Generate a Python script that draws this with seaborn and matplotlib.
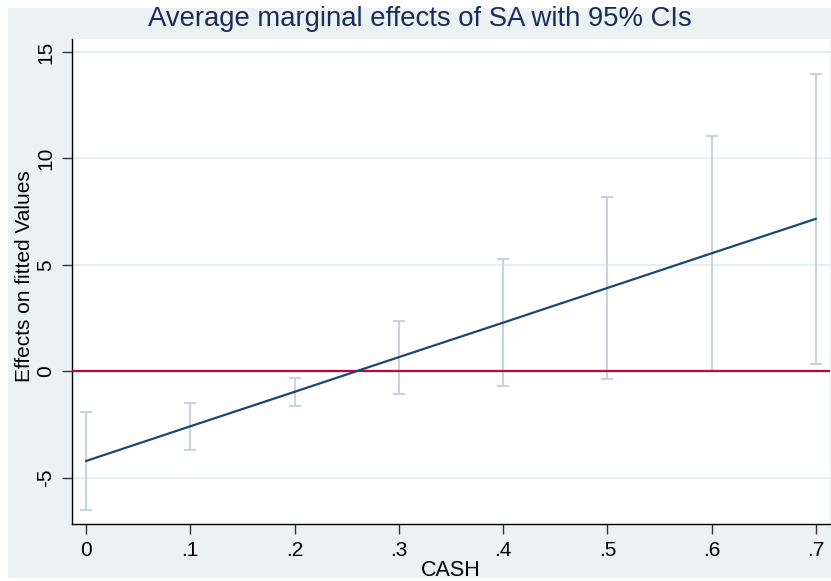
import numpy as np
import pandas as pd
import matplotlib
matplotlib.use("Agg")
import matplotlib.pyplot as plt
import seaborn as sns
from matplotlib.patches import Rectangle

# margins
cash = [0.0, 0.1, 0.2, 0.3, 0.4, 0.5, 0.6, 0.7]
effect = [-4.22, -2.59, -0.97, 0.66, 2.28, 3.91, 5.54, 7.16]
ci_low = [-6.53, -3.70, -1.63, -1.07, -0.69, -0.35, 0.02, 0.33]
ci_high = [-1.93, -1.50, -0.30, 2.38, 5.26, 8.16, 11.07, 13.98]
x_ticks = [0.0, 0.1, 0.2, 0.3, 0.4, 0.5, 0.6, 0.7]
x_tick_labels = ["0", ".1", ".2", ".3", ".4", ".5", ".6", ".7"]
y_ticks = [-5, 0, 5, 10, 15]
y_tick_labels = ["-5", "0", "5", "10", "15"]

df = pd.DataFrame({"CASH": cash, "effect": effect, "lo": ci_low, "hi": ci_high})

sns.set_theme(style="white")
plt.rcParams["font.family"] = ["Liberation Sans", "DejaVu Sans"]
plt.rcParams["axes.unicode_minus"] = False

W, H = 831, 581
fig = plt.figure(figsize=(W / 100, H / 100), dpi=100, facecolor="white")
# light blue graph region like Stata's s2color scheme
bg = Rectangle((8 / W, 3 / H), (W - 8) / W, (H - 11) / H,
               transform=fig.transFigure, facecolor="#eaf2f3",
               edgecolor="none", zorder=-10)
fig.patches.append(bg)

ax = fig.add_axes([72 / W, 1 - 524 / H, (830 - 72) / W, (524 - 38.5) / H])
ax.set_facecolor("white")

for yv in [-5, 5, 10, 15]:
    ax.axhline(yv, color="#e3eef2", lw=1.3, zorder=1)

ax.errorbar(df["CASH"], df["effect"],
            yerr=[df["effect"] - df["lo"], df["hi"] - df["effect"]],
            fmt="none", ecolor="#c8d3de", elinewidth=1.5, capsize=4,
            capthick=1.5, zorder=2)
ax.axhline(0, color="#c10534", lw=1.6, zorder=3)
sns.lineplot(data=df, x="CASH", y="effect", color="#1a476f", lw=1.6,
             ax=ax, zorder=4)

ax.set_xlim(-0.0134, 0.7134)
ax.set_ylim(-7.18, 15.63)
ax.set_xticks(x_ticks)
ax.set_xticklabels(x_tick_labels)
ax.set_yticks(y_ticks)
ax.set_yticklabels(y_tick_labels, rotation=90, va="center")
ax.tick_params(axis="both", direction="out", length=7, width=1,
               color="#333333", labelsize=15, labelcolor="black", pad=5,
               bottom=True, left=True)

for side in ["top", "right"]:
    ax.spines[side].set_visible(False)
for side in ["left", "bottom"]:
    ax.spines[side].set_color("black")
    ax.spines[side].set_linewidth(1)

ax.set_xlabel("")
ax.set_ylabel("")
fig.text(451 / W, 1 - 571 / H, "CASH", ha="center", va="center",
         fontsize=15.5, color="black")
fig.text(24.5 / W, 1 - 276 / H, "Effects on fitted Values", ha="center",
         va="center", rotation=90, fontsize=15, color="black")
fig.text(420 / W, 1 - 19 / H, "Average marginal effects of SA with 95% CIs",
         ha="center", va="center", fontsize=19.8, color="#1e2b57")

fig.savefig("out.png", dpi=100, facecolor="white")
